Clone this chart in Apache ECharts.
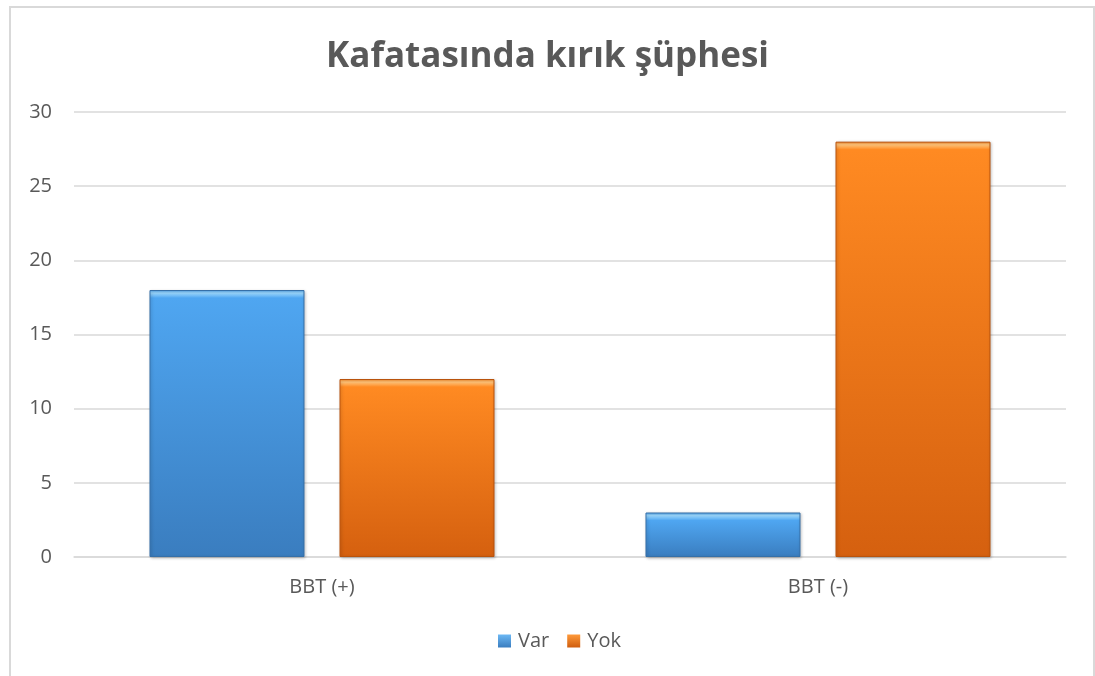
<!DOCTYPE html>
<html>
<head>
<meta charset="utf-8">
<script src="https://cdn.jsdelivr.net/npm/echarts@6/dist/echarts.min.js"></script>
<style>html,body{margin:0;padding:0;background:#fff}#c{width:1095px;height:676px}</style>
</head>
<body>
<div id="c"></div>
<script>
const categories = ['BBT (+)', 'BBT (-)'];
const varValues = [18, 3];
const yokValues = [12, 28];
const seriesNames = ['Var', 'Yok'];

const FONT = '"Open Sans", "DejaVu Sans", sans-serif';
const chart = echarts.init(document.getElementById('c'), null, {renderer: 'canvas'});

const PLOT_H = 676 - 112 - 119;
const Y_MAX = 30;

function bevel(top, light, bottom) {
  return function (params) {
    const h = Math.max(1, params.value / Y_MAX * PLOT_H);
    const a = Math.min(0.3, 3 / h);
    const b = Math.min(0.45, 8 / h);
    return new echarts.graphic.LinearGradient(0, 0, 0, 1, [
      {offset: 0, color: top},
      {offset: a, color: light},
      {offset: b, color: top},
      {offset: 1, color: bottom}
    ]);
  };
}

const legendColors = {
  Var: new echarts.graphic.LinearGradient(0, 0, 0, 1, [{offset: 0, color: '#6cb8f4'}, {offset: 1, color: '#3a7dbf'}]),
  Yok: new echarts.graphic.LinearGradient(0, 0, 0, 1, [{offset: 0, color: '#ff9a3a'}, {offset: 1, color: '#cf5d0e'}])
};

chart.setOption({
  animation: false,
  backgroundColor: '#fff',
  graphic: [{
    type: 'rect',
    shape: {x: 10, y: 7, width: 1084, height: 700},
    style: {fill: 'none', stroke: '#d9d9d9', lineWidth: 2},
    silent: true
  }],
  title: {
    text: 'Kafatasında kırık şüphesi',
    left: 'center',
    top: 35,
    textStyle: {fontFamily: FONT, fontSize: 35, fontWeight: 'bold', color: '#595959'}
  },
  legend: {
    data: seriesNames.map(n => ({name: n, itemStyle: {color: legendColors[n], borderWidth: 0}})),
    bottom: 20,
    left: 493,
    icon: 'rect',
    itemWidth: 13,
    itemHeight: 13,
    itemGap: 18,
    textStyle: {fontFamily: FONT, fontSize: 20, color: '#595959', padding: [0, 0, 0, 2]}
  },
  grid: {left: 74, right: 29, top: 112, bottom: 119, containLabel: false},
  xAxis: {
    type: 'category',
    data: categories,
    axisLine: {lineStyle: {color: '#d9d9d9', width: 1.5}},
    axisTick: {show: false},
    axisLabel: {fontFamily: FONT, fontSize: 20, color: '#595959', margin: 20}
  },
  yAxis: {
    type: 'value',
    min: 0, max: Y_MAX, interval: 5,
    axisLine: {show: false},
    axisTick: {show: false},
    splitLine: {lineStyle: {color: '#d9d9d9', width: 1.5}},
    axisLabel: {fontFamily: FONT, fontSize: 20, color: '#595959', margin: 22}
  },
  series: [
    {
      name: 'Var', type: 'bar', data: varValues,
      barWidth: 155, barGap: '22.6%',
      itemStyle: {
        color: bevel('#4fa6f1', '#9ad6fc', '#3a7dbf'),
        borderColor: '#3670a8', borderWidth: 1,
        shadowColor: 'rgba(0,0,0,0.25)', shadowBlur: 3, shadowOffsetX: 1, shadowOffsetY: 1
      }
    },
    {
      name: 'Yok', type: 'bar', data: yokValues,
      barWidth: 155,
      itemStyle: {
        color: bevel('#ff8a22', '#ffc47a', '#d5600f'),
        borderColor: '#b9530c', borderWidth: 1,
        shadowColor: 'rgba(0,0,0,0.25)', shadowBlur: 3, shadowOffsetX: 1, shadowOffsetY: 1
      }
    }
  ]
});
</script>
</body>
</html>
